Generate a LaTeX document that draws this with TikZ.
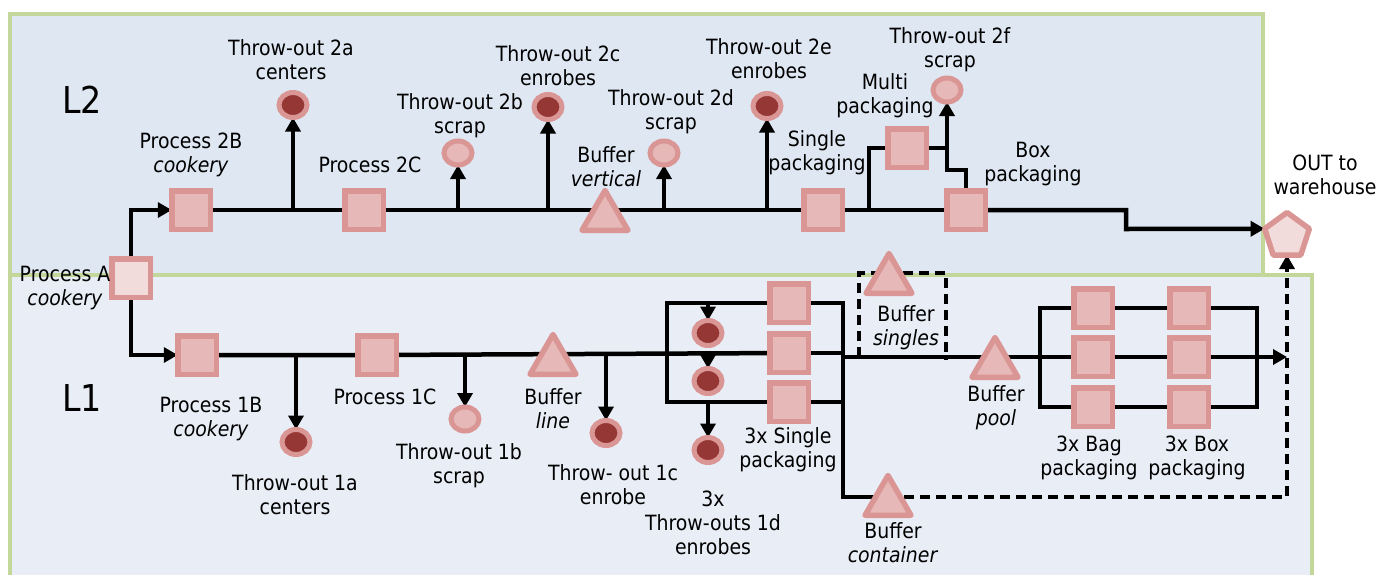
\documentclass[tikz,border=0pt]{standalone}
\usepackage{fontspec}
\setmainfont{DejaVu Sans Condensed}[ItalicFont={DejaVu Sans Condensed Oblique}]
\usetikzlibrary{arrows.meta,shapes.geometric,calc}
\definecolor{pinkb}{RGB}{218,150,148}
\definecolor{pinkf}{RGB}{230,184,183}
\definecolor{pinkl}{RGB}{242,220,219}
\definecolor{darkr}{RGB}{149,55,53}
\definecolor{greenb}{RGB}{196,215,155}
\definecolor{bgtwo}{RGB}{222,231,242}
\definecolor{bgone}{RGB}{233,238,246}
\pgfdeclarelayer{back}\pgfdeclarelayer{lines}\pgfsetlayers{back,lines,main}
\begin{document}
\begin{tikzpicture}[x=1pt,y=-1pt,
  every node/.style={inner sep=0pt, outer sep=0pt},
  txt/.style={align=center, font=\fontsize{21}{24}\selectfont},
  big/.style={font=\fontsize{37}{40}\selectfont},
  box/.style={rectangle, draw=pinkb, fill=pinkf, line width=5.5pt, minimum size=38.5pt},
  boxl/.style={box, fill=pinkl},
  tri/.style={regular polygon, regular polygon sides=3, draw=pinkb, fill=pinkf, line width=5.5pt, minimum size=53pt, line join=round},
  pent/.style={regular polygon, regular polygon sides=5, draw=pinkb, fill=pinkl, line width=5.5pt, minimum size=47pt, line join=round},
  dcirc/.style={ellipse, draw=pinkb, fill=darkr, line width=5pt, minimum width=28pt, minimum height=25pt},
  lcirc/.style={ellipse, draw=pinkb, fill=pinkf, line width=5pt, minimum width=28pt, minimum height=24pt},
  conn/.style={draw=black, line width=4.5pt},
  arr/.style={conn, -{Triangle[length=14pt,width=15pt]}},
  dline/.style={conn, dash pattern=on 10pt off 6pt},
  darr/.style={dline, -{Triangle[length=14pt,width=15pt]}},
  panel/.style={draw=greenb, line width=4.5pt}
]
\useasboundingbox (0,0) rectangle (1377,574);
\begin{pgfonlayer}{back}
\fill[white] (0,0) rectangle (1377,574);
\draw[panel, fill=bgtwo] (10,14) rectangle (1263,275);
\draw[panel, fill=bgone] (10,275) rectangle (1312,600);
\end{pgfonlayer}

% ---------- shapes ----------
\node[boxl] (pA) at (131,278) {};
\node[box] (p2B) at (191,210) {};
\node[box] (p2C) at (364,210) {};
\node[tri] (bufV) at (605,217) {};
\node[box] (sp) at (823,210) {};
\node[box] (mp) at (907,148) {};
\node[box] (boxp) at (966,210) {};
\node[pent] (out) at (1287,236) {};

\node[dcirc] (to2a) at (293,105) {};
\node[lcirc] (to2b) at (458,153) {};
\node[dcirc] (to2c) at (548,107) {};
\node[lcirc] (to2d) at (664,153) {};
\node[dcirc] (to2e) at (767,106) {};
\node[lcirc] (to2f) at (947,90) {};

\node[box] (p1B) at (197,355) {};
\node[box] (p1C) at (377,355) {};
\node[tri] (bufL) at (553,361) {};
\node[box] (s1) at (789,303) {};
\node[box] (s2) at (789,353) {};
\node[box] (s3) at (789,402) {};
\node[tri] (bufS) at (889,280) {};
\node[tri] (bufC) at (888,502) {};
\node[tri] (bufP) at (995,364) {};
\node[box] (g1) at (1093,308) {};
\node[box] (g2) at (1093,357) {};
\node[box] (g3) at (1093,407) {};
\node[box] (x1) at (1189,308) {};
\node[box] (x2) at (1189,357) {};
\node[box] (x3) at (1189,407) {};

\node[dcirc] (to1a) at (296,442) {};
\node[lcirc] (to1b) at (465,419) {};
\node[dcirc] (to1c) at (606,433) {};
\node[dcirc] (to1d1) at (708,333) {};
\node[dcirc] (to1d2) at (708,381) {};
\node[dcirc] (to1d3) at (708,450) {};

% ---------- labels ----------
\node[big] (lL2) at (82,100) {L2};
\node[big] (lL1) at (82,398) {L1};
\node[txt] (lpA) at (65,288) {Process A\\\textit{cookery}};
\node[txt] (l2B) at (191,155) {Process 2B\\\textit{cookery}};
\node[txt] (l2C) at (370,165) {Process 2C};
\node[txt] (l2a) at (291,60) {Throw-out 2a\\centers};
\node[txt] (l2b) at (460,116) {Throw-out 2b\\scrap};
\node[txt] (l2c) at (558,66) {Throw-out 2c\\enrobes};
\node[txt] (lbV) at (606,167) {Buffer\\\textit{vertical}};
\node[txt] (l2d) at (671,112) {Throw-out 2d\\scrap};
\node[txt] (l2e) at (769,59) {Throw-out 2e\\enrobes};
\node[txt] (lsp) at (817,153) {Single\\packaging};
\node[txt] (lmp) at (885,96) {Multi\\packaging};
\node[txt] (l2f) at (950,50) {Throw-out 2f\\scrap};
\node[txt] (lbx) at (1033,164) {Box\\packaging};
\node[txt] (lout) at (1325,175) {OUT to\\warehouse};

\node[txt] (l1B) at (211,419) {Process 1B\\\textit{cookery}};
\node[txt] (l1a) at (295,495) {Throw-out 1a\\centers};
\node[txt] (l1C) at (385,397) {Process 1C};
\node[txt] (l1b) at (459,466) {Throw-out 1b\\scrap};
\node[txt] (lbL) at (553,409) {Buffer\\\textit{line}};
\node[txt] (l1c) at (613,485) {Throw- out 1c\\enrobe};
\node[txt] (l1d) at (713,523) {3x\\Throw-outs 1d\\enrobes};
\node[txt] (lsg) at (788,450) {3x Single\\packaging};
\node[txt] (lbS) at (906,328) {Buffer\\\textit{singles}};
\node[txt] (lbC) at (893,543) {Buffer\\\textit{container}};
\node[txt] (lbP) at (996,408) {Buffer\\\textit{pool}};
\node[txt] (lbag) at (1089,458) {3x Bag\\packaging};
\node[txt] (lbox) at (1197,458) {3x Box\\packaging};

% ---------- coordinates ----------
\coordinate (j1) at (869,210);
\coordinate (k1) at (1126,229);
\coordinate (lbt) at (667,303);
\coordinate (rbt) at (843,303);
\coordinate (rb) at (843,357);
\coordinate (cb) at (843,497);
\coordinate (ds1) at (859,357);
\coordinate (ds2) at (859,273);
\coordinate (ds3) at (946,273);
\coordinate (ds4) at (946,360);
\coordinate (lg) at (1040,357);
\coordinate (rg) at (1257,357);

% ---------- connectors ----------
\begin{pgfonlayer}{lines}
\draw[arr] (pA.north) |- (p2B.west);
\draw[arr] (pA.south) |- (p1B.west);
\draw[conn] (p2B.center) -- (boxp.center);
\draw[arr] (to2a.south |- p2B) -- (to2a.south);
\draw[arr] (to2b.south |- p2B) -- (to2b.south);
\draw[arr] (to2c.south |- p2B) -- (to2c.south);
\draw[arr] (to2d.south |- p2B) -- (to2d.south);
\draw[arr] (to2e.south |- p2B) -- (to2e.south);
\draw[conn] (j1) |- (mp.center);
\draw[conn] (mp.center) -- (mp.center -| to2f.south);
\draw[arr] (boxp.center) -- ++(0,-40) -| (to2f.south);
\draw[arr] (boxp.center) -| (k1) -- (out.corner 2);

\draw[conn] (p1B.center) -- (p1C.center) -- (s2.center);
\draw[arr] (to1a.north |- p1B) -- (to1a.north);
\draw[arr] (to1b.north |- p1B) -- (to1b.north);
\draw[arr] (to1c.north |- p1B) -- (to1c.north);
\draw[conn] (s1.center) -- (lbt) |- (s3.center);
\draw[arr] (to1d1.north |- s1) -- (to1d1.north);
\draw[arr] (to1d2.north |- s2) -- (to1d2.north);
\draw[arr] (to1d3.north |- s3) -- (to1d3.north);
\draw[conn] (s1.center) -- (rbt) -- (cb) -- (cb -| bufC.center);
\draw[conn] (s2.center) -- (s2.center -| rbt);
\draw[conn] (s3.center) -- (s3.center -| rbt);
\draw[conn] (rb) -- (x2.center);
\draw[dline] (ds1) -- (ds2) -- (ds3) -- (ds4);
\draw[darr] (cb -| bufC.center) -| (out.south);
\draw[conn] (g1.center) -| (lg) |- (g3.center);
\draw[conn] (g1.center) -- (x1.center);
\draw[conn] (g3.center) -- (x3.center);
\draw[conn] (x1.center) -| (rg) |- (x3.center);
\draw[arr] (x2.center) -- (out.south |- x2);
\end{pgfonlayer}
\end{tikzpicture}
\end{document}
